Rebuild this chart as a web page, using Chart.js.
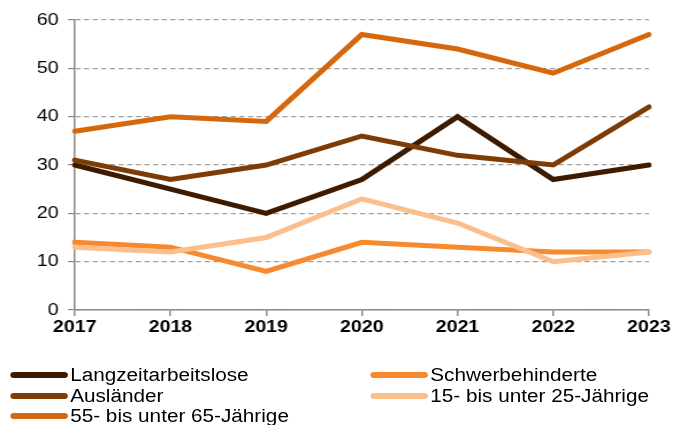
<!DOCTYPE html>
<html><head><meta charset="utf-8">
<script src="https://cdn.jsdelivr.net/npm/chart.js@4"></script>
<style>
html,body{margin:0;padding:0;background:#fff;overflow:hidden;}
#wrap{position:relative;width:598px;height:425px;transform:scaleX(1.1505);transform-origin:0 0;}
#c{position:absolute;left:0;top:0;}
#legend{position:absolute;left:0;top:0;width:598px;font-family:"Liberation Sans",Arial,sans-serif;font-size:18px;color:#000;}
.item{position:absolute;height:20px;line-height:20px;white-space:nowrap;}
.sw{display:inline-block;width:50px;height:6px;border-radius:3px;vertical-align:middle;margin-right:2px;position:relative;top:-1px;}
</style></head>
<body><div id="wrap"><canvas id="c" width="598" height="345"></canvas><div id="legend"></div></div>
<script>
const years = ["2017","2018","2019","2020","2021","2022","2023"];
const langzeit = [30,25,20,27,40,27,30];
const schwer = [14,13,8,14,13,12,12];
const auslaender = [31,27,30,36,32,30,42];
const jung = [13,12,15,23,18,10,12];
const alt = [37,40,39,57,54,49,57];
const yTicks = [0,10,20,30,40,50,60];
const names = ["Langzeitarbeitslose","Schwerbehinderte","Ausländer","15- bis unter 25-Jährige","55- bis unter 65-Jährige"];
const colors = ["#3d1b00","#f7892f","#7d3c05","#fbbf8c","#d5680d"];
const series = [langzeit,schwer,auslaender,jung,alt];
const drawOrder = [3,1,2,0,4];

const datasets = drawOrder.map(i=>({label:names[i],data:series[i],borderColor:colors[i],backgroundColor:colors[i],borderWidth:5,pointRadius:0,tension:0,fill:false,borderCapStyle:'round',borderJoinStyle:'miter'}));

new Chart(document.getElementById('c'),{
 type:'line',
 data:{labels:years,datasets},
 options:{
  responsive:false,animation:false,
  layout:{padding:{left:0,right:34,top:20,bottom:0}},
  plugins:{legend:{display:false},tooltip:{enabled:false}},
  scales:{
   x:{offset:false,
      grid:{drawOnChartArea:false,drawTicks:true,tickLength:6,color:'#8c8c8c',lineWidth:1.5},
      border:{color:'#8c8c8c',width:1.5},
      ticks:{color:'#000',font:{family:'"Liberation Sans",Arial,sans-serif',size:17,weight:'bold'},padding:1,maxRotation:0},
      afterFit:s=>{s.height=35;}},
   y:{min:0,max:60,
      afterBuildTicks:s=>{s.ticks=yTicks.map(v=>({value:v}));},
      grid:{color:'#a0a0a0',lineWidth:1.2,drawTicks:true,tickLength:6,tickColor:'#8c8c8c',tickBorderDash:[]},
      border:{color:'#8c8c8c',width:1.5,dash:[4.5,3]},
      ticks:{color:'#000',font:{family:'"Liberation Sans",Arial,sans-serif',size:17},padding:8},
      afterFit:s=>{s.width=65;}}
  }
 }
});

const leg = document.getElementById('legend');
const pos = [[9,365],[322,365],[9,386],[322,386],[9,406]];
names.forEach((n,i)=>{
 const d=document.createElement('div');d.className='item';
 d.style.left=pos[i][0]+'px';d.style.top=pos[i][1]+'px';
 d.innerHTML='<span class="sw" style="background:'+colors[i]+'"></span>'+n;
 leg.appendChild(d);
});
</script></body></html>
